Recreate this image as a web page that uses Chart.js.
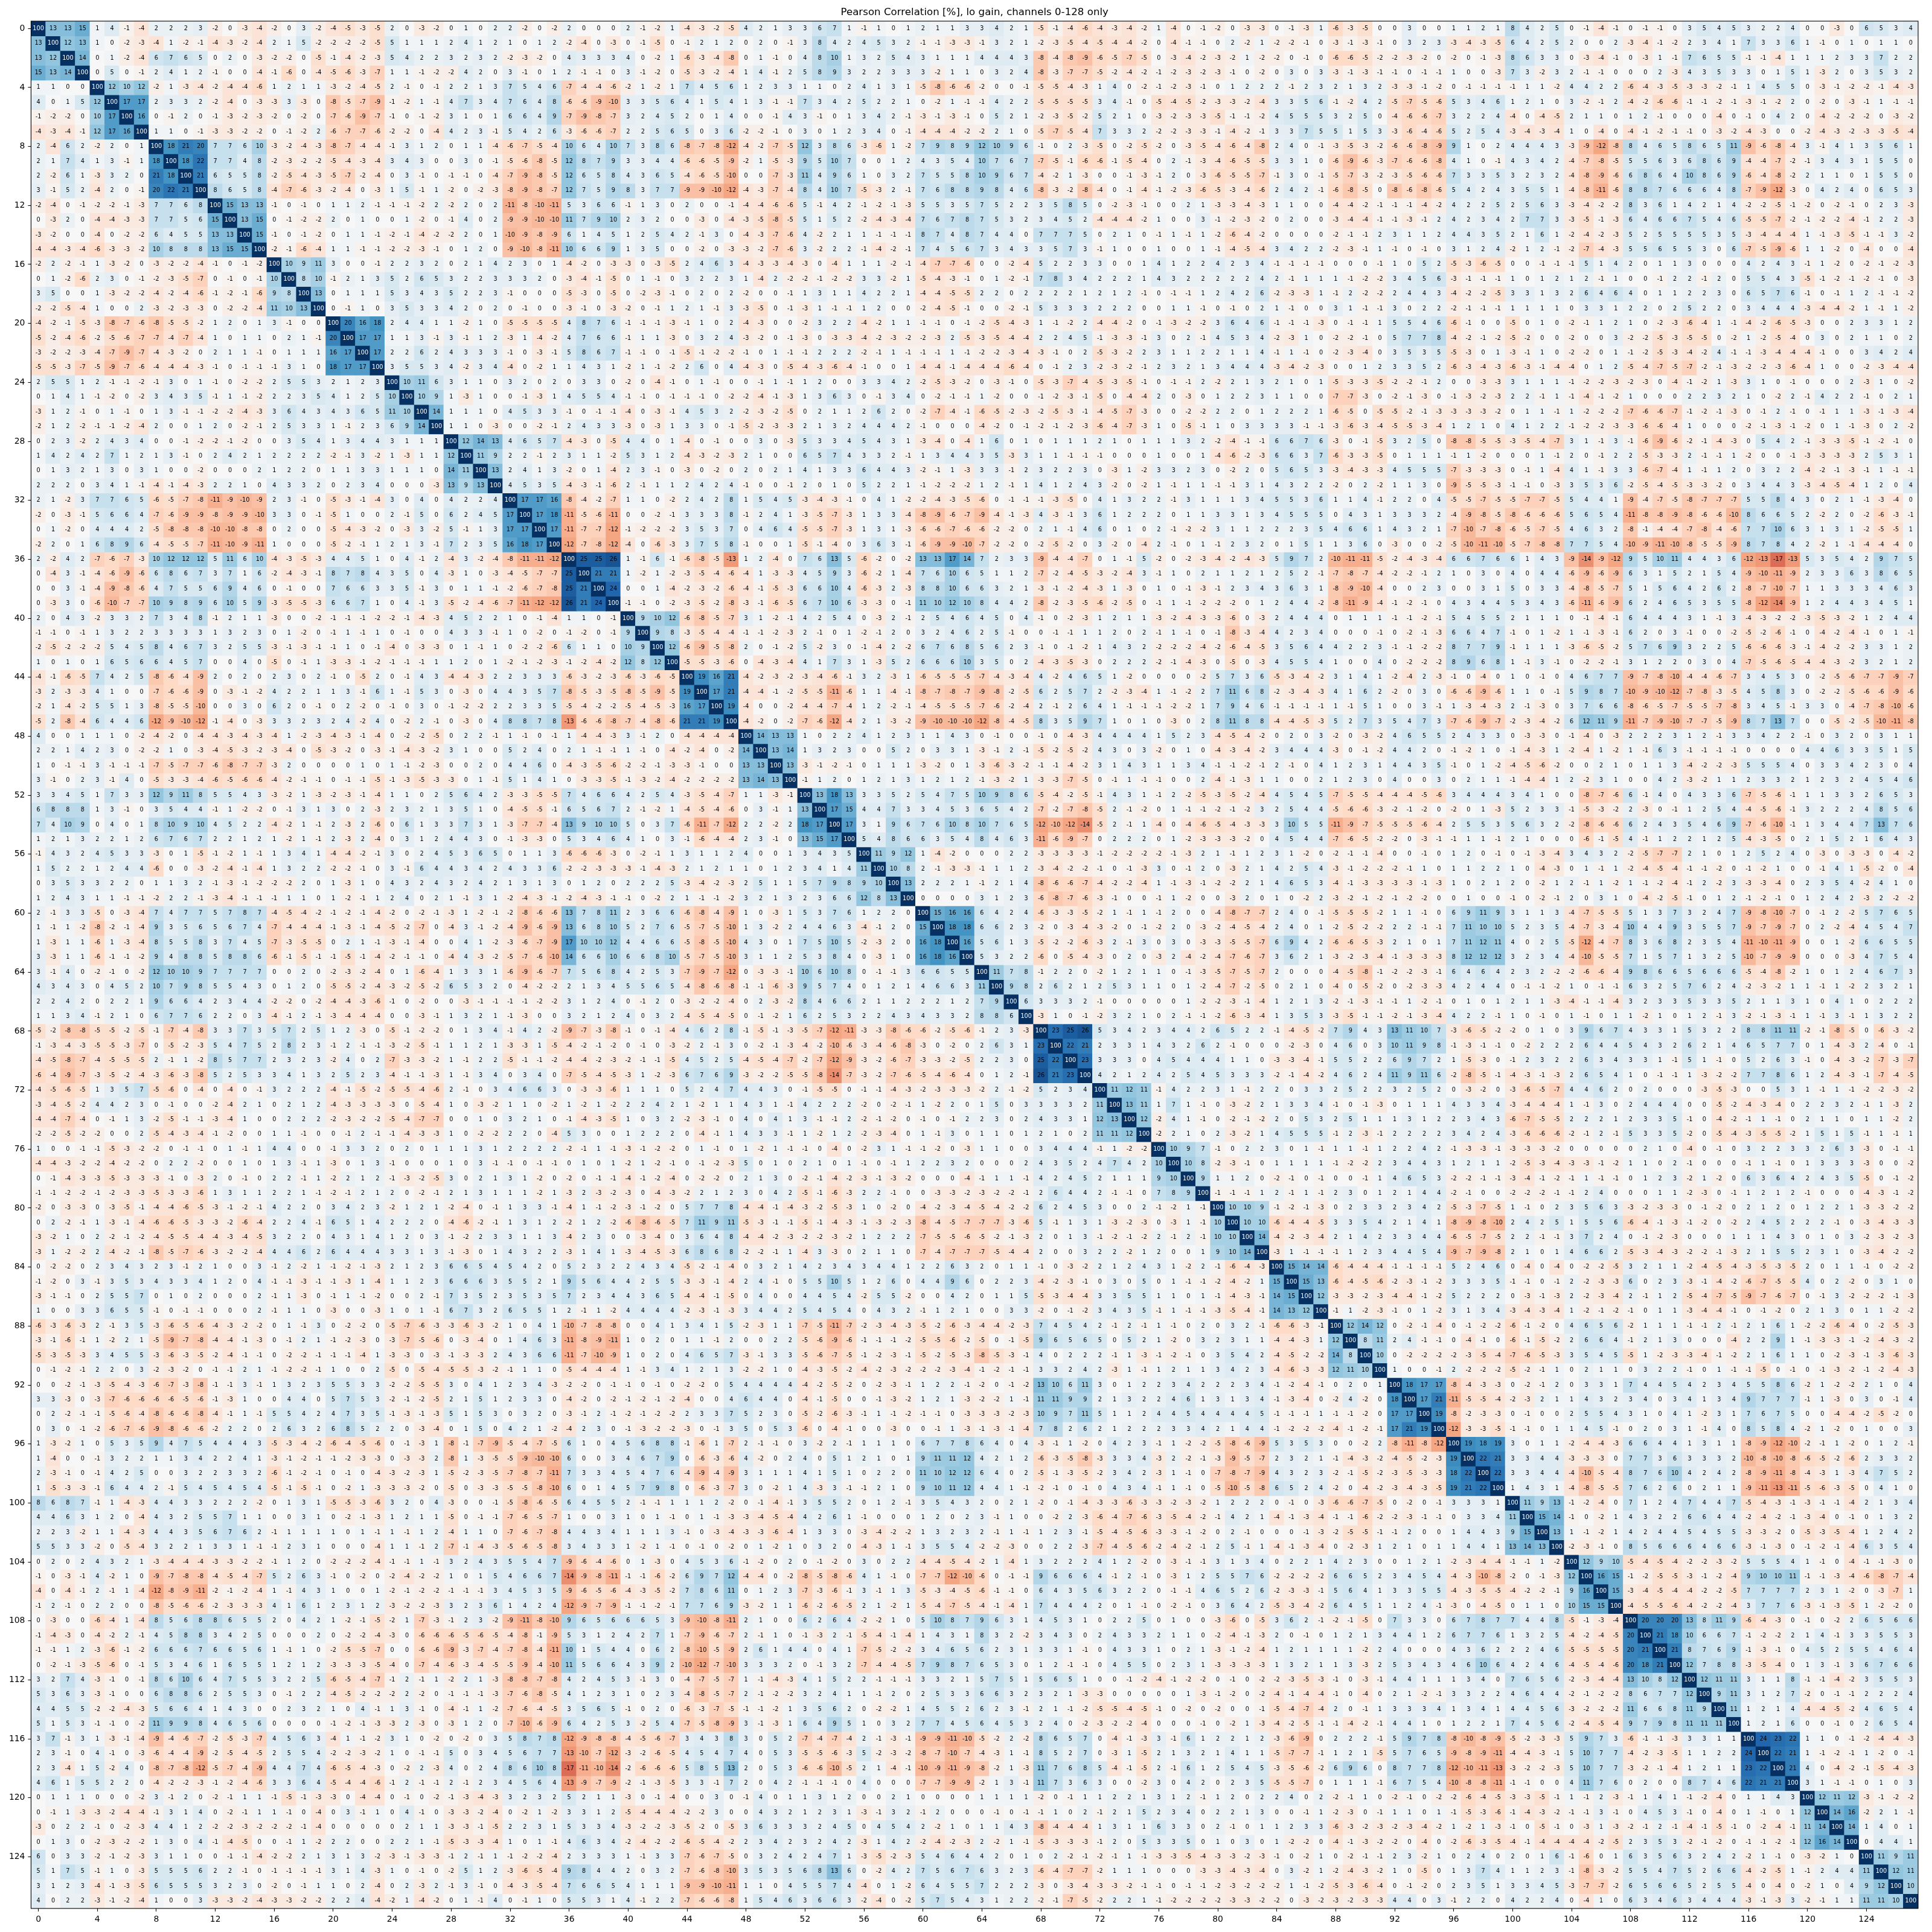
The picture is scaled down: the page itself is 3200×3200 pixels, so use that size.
<!DOCTYPE html>
<html>
<head>
<meta charset="utf-8">
<title>Pearson Correlation</title>
<script src="https://cdn.jsdelivr.net/npm/chart.js@4"></script>
<style>
  html, body { margin: 0; padding: 0; background: #fff; }
  canvas { display: block; }
</style>
</head>
<body>
<canvas id="corrChart" width="3200" height="3200"></canvas>
<script>
const chartTitle = 'Pearson Correlation [%], lo gain, channels 0-128 only';
const tickValues = [0, 4, 8, 12, 16, 20, 24, 28, 32, 36, 40, 44, 48, 52, 56, 60, 64, 68, 72, 76, 80, 84, 88, 92, 96, 100, 104, 108, 112, 116, 120, 124];

// The matrix is symmetric, so only the upper part is kept, in blocks of 32 channels.
// diag* rows start on the diagonal, upper* rows are complete.
const diag0 = [
[100,13,13,15,1,4,-1,-4,2,2,2,3,-2,0,-3,-4,-2,0,3,-2,-4,-5,-3,-5,2,0,-3,-2,0,1,0,2],
[100,12,13,1,0,-2,-3,-4,1,-2,-1,-4,-3,-2,-4,2,1,5,-2,-2,-2,-2,-5,5,1,1,1,2,4,1,2],
[100,14,0,1,-2,-4,6,7,6,5,0,2,0,-3,-2,-2,0,-5,-1,-4,-2,-3,5,4,2,2,3,2,3,2],
[100,0,5,0,-1,2,4,1,2,-1,0,0,-4,-1,-6,0,-4,-5,-6,-3,-7,1,1,-1,-2,-2,4,2,0],
[100,12,10,12,-2,1,-3,-4,-2,-4,-4,-6,1,2,1,1,-3,-2,-4,-5,2,-1,0,-1,2,2,1,3],
[100,17,17,2,3,3,2,-2,-4,0,-3,-3,3,-3,0,-8,-5,-7,-9,-1,-2,1,-1,4,7,3,4],
[100,16,0,-1,2,0,-1,-3,-2,-3,-2,0,-2,0,-7,-6,-9,-7,-1,0,-1,-2,3,1,0,1],
[100,1,1,0,-1,-3,-3,-2,-2,0,-1,-2,2,-6,-7,-7,-6,-2,-2,0,-4,4,2,3,-1],
[100,18,21,20,7,7,6,10,-3,-2,-4,-3,-8,-7,-4,-4,-1,3,1,2,0,1,1,-4],
[100,18,22,7,7,4,8,-2,-3,-2,-2,-5,-4,-3,-4,3,4,3,0,0,3,0,-1],
[100,21,6,5,5,8,-2,-5,-4,-3,-5,-7,-2,-4,0,3,-1,0,-1,-1,0,-4],
[100,8,6,5,8,-4,-7,-6,-3,-2,-4,0,-3,1,5,-1,1,-2,0,-2,-3],
[100,15,13,13,-1,0,-1,0,1,1,2,-1,-1,-1,-2,2,-2,2,0,2],
[100,13,15,0,-1,-2,-2,2,0,1,0,0,1,-2,0,-1,4,0,2],
[100,15,-1,0,-1,-2,0,1,1,-1,-2,-1,-4,-2,-2,2,0,1],
[100,-2,-1,-6,-4,1,1,-1,-1,-2,-2,-3,-1,0,1,2,0],
[100,10,9,11,3,0,0,-1,2,2,3,2,0,2,1,4],
[100,8,10,-1,2,1,3,5,2,6,5,3,2,2,3],
[100,13,0,1,1,1,5,3,4,3,5,2,2,3],
[100,0,-1,1,0,3,5,3,3,4,2,0,2],
[100,20,16,18,2,4,4,1,1,-2,1,0],
[100,17,17,1,1,3,-1,3,-1,1,2],
[100,17,2,2,6,2,4,3,3,3],
[100,3,5,5,3,4,-2,3,4],
[100,10,11,6,3,1,1,0],
[100,10,9,1,-3,1,0],
[100,14,1,1,1,0],
[100,1,1,0,-3],
[100,12,14,13],
[100,11,9],
[100,13],
[100]
];
const upper01 = [
[2,-2,0,-2,2,0,0,0,2,-1,-2,1,-4,-3,-2,-5,4,2,1,3,3,6,7,1,-1,1,0,1,2,1,1,3],
[1,0,1,2,-2,-4,0,-3,0,-1,-5,0,-1,2,1,2,0,2,0,-1,3,8,4,2,4,5,3,2,-1,-1,-3,-3],
[-2,-3,-2,0,4,3,3,3,4,0,-2,1,-6,-3,-4,-8,0,1,-1,0,4,8,10,1,3,2,5,4,3,1,1,1],
[3,-1,0,1,2,-1,-1,0,3,-1,-2,0,-5,-3,-2,-4,1,4,-1,2,5,8,9,3,2,2,3,3,3,-2,1,1],
[7,5,4,6,-7,-4,-4,-6,-2,1,-2,1,7,4,5,6,1,2,3,3,1,1,0,2,4,1,3,1,-5,-8,-6,-6],
[7,6,4,8,-6,-6,-9,-10,3,3,5,6,4,1,5,4,1,3,-1,-1,7,3,4,2,5,2,2,1,0,-2,1,-1],
[6,6,4,9,-7,-9,-8,-7,3,2,4,5,2,0,1,4,0,0,-1,4,3,-1,0,1,3,4,2,-1,-3,-1,-3,-1],
[5,4,2,6,-3,-6,-6,-7,2,2,5,6,5,0,3,6,-2,-2,-1,0,3,0,1,2,3,4,0,-1,-4,-4,-4,-2],
[-6,-7,-5,-4,10,6,4,10,7,3,8,6,-8,-7,-8,-12,-4,-2,-7,-5,12,3,8,6,-3,-6,1,-2,7,9,8,9],
[-5,-6,-8,-5,12,8,7,9,3,3,4,4,-6,-6,-5,-9,-2,1,-5,-3,9,5,10,7,0,0,1,2,4,3,5,4],
[-7,-9,-8,-5,12,6,5,8,4,3,6,5,-4,-6,-5,-10,0,0,-7,-3,11,4,9,6,1,0,3,2,7,5,5,8],
[-8,-9,-8,-7,12,7,5,9,8,3,7,7,-9,-9,-10,-12,-4,-3,-7,-4,8,4,10,7,-5,-3,2,-1,7,6,8,8],
[-11,-8,-10,-11,5,3,6,6,-1,1,3,0,2,0,0,-1,-4,-4,-6,-6,5,-1,4,2,-1,-2,-1,-3,5,5,3,5],
[-9,-9,-10,-10,11,7,9,10,2,3,2,0,0,-3,0,-4,-3,-5,-8,-5,5,1,5,2,-2,-4,-3,-4,7,6,7,8],
[-10,-9,-8,-9,6,1,4,5,1,2,5,4,2,-1,3,0,-4,-3,-7,-6,4,-2,2,1,1,-1,-1,-1,8,7,4,8],
[-9,-10,-8,-11,10,6,6,9,1,3,5,0,0,-2,0,-3,-3,-2,-7,-6,3,-2,2,2,-1,-4,-2,-1,7,4,5,6],
[2,3,0,1,-4,-2,0,-3,-3,0,-3,-5,2,4,6,3,-4,-3,-3,-4,-3,0,-4,1,1,1,-2,-1,-4,-7,-7,-6],
[3,3,2,0,-3,-4,-1,-5,0,1,-1,0,3,2,2,3,1,-4,2,-2,-2,-1,-2,-2,3,3,-2,1,-5,-4,-3,-1],
[-1,0,0,0,-5,-3,0,-5,0,-2,-3,-1,0,2,0,2,-2,0,0,-1,1,3,1,1,4,2,2,1,-4,-4,-5,-5],
[0,-1,0,0,-3,-1,0,-3,-2,0,-1,1,2,1,-1,3,-3,-5,0,-1,-3,1,-1,-1,1,2,0,0,-2,-4,-5,-1],
[-5,-5,-5,-5,4,8,7,6,-1,-1,-1,-3,-1,1,0,2,-4,-3,0,0,-2,3,2,2,-4,-2,1,1,-1,-1,0,-1],
[-3,1,-4,-2,4,7,6,6,-1,1,1,-3,0,3,2,4,-3,-2,0,-1,-3,0,-3,-3,-4,-2,-3,-2,-2,-3,2,-5],
[-1,0,-3,-1,5,8,6,7,-1,-1,0,-1,-5,-1,-2,-2,-1,0,1,-1,-1,2,2,2,-2,-1,1,-1,-1,-1,1,-1],
[-4,0,-2,1,1,4,3,1,-2,1,-1,-2,2,6,0,4,-4,-3,0,-5,-4,-3,-6,-4,-1,0,0,1,-4,-4,-1,-4],
[3,2,0,2,0,3,3,0,-2,0,-4,-1,0,1,-1,0,0,-1,1,-1,1,2,0,0,3,3,4,2,-2,-5,-3,-2],
[0,-1,-3,1,4,5,5,4,-1,-1,0,-1,-1,-1,0,-2,-2,-4,-1,-3,1,3,6,3,0,-1,3,4,0,-2,-1,-1],
[4,5,3,3,-1,0,-1,-1,-4,0,-3,-1,4,5,3,2,-2,-3,-2,-5,0,2,1,1,2,6,2,0,-2,-7,-4,-1],
[0,0,-2,-1,2,4,3,3,-3,0,-3,1,3,3,0,-1,-5,-2,-3,-3,2,1,3,2,4,4,4,2,-1,0,0,0],
[4,6,5,7,-4,-3,0,-5,4,4,0,1,-4,0,-1,0,0,3,0,-3,5,3,3,4,5,4,3,1,-3,-4,0,-4],
[2,2,-1,2,3,1,1,-2,5,3,1,2,-4,-3,-2,-3,2,1,0,0,6,5,7,4,3,3,2,-1,1,3,4,4],
[2,4,1,3,-2,0,1,-4,2,3,-1,0,-3,0,-2,0,2,0,2,1,4,1,3,3,6,4,4,3,-2,-1,1,-3],
[4,5,3,5,-4,-3,-1,-6,2,-1,1,1,2,4,2,4,-1,0,0,-1,2,0,1,0,5,2,2,1,-1,-2,-2,-2]
];
const upper02 = [
[3,4,2,1,-5,-1,-4,-6,-4,-3,-4,-2,1,-4,0,-1,-2,0,-3,-3,0,-1,-3,1,-6,-3,-5,0,0,3,0,0],
[-1,3,2,1,-2,-3,-5,-4,-5,-4,-4,-2,0,-4,-1,-1,0,2,-2,1,-2,-2,-1,0,-3,-1,-3,-1,0,3,2,3],
[4,4,4,3,-8,-4,-8,-9,-6,-5,-7,-5,0,-3,-4,-2,-3,-2,1,-2,-2,0,-1,0,-6,-6,-5,-2,-2,-3,-2,0],
[0,3,2,4,-8,-3,-7,-7,-5,-2,-4,-2,-1,-2,-3,-2,-3,-1,0,-2,0,3,0,3,-3,-1,-3,-1,-1,0,-1,-1],
[-2,0,0,-1,-5,-5,-4,-3,1,4,0,-2,-1,-2,-3,-1,0,1,2,2,2,-1,2,3,2,1,3,2,-3,-3,-1,-2],
[-1,4,2,2,-5,-5,-5,-5,3,4,-1,0,-5,-4,-5,-2,-3,-3,-2,-4,3,3,5,6,-1,-2,4,2,-5,-7,-5,-6],
[0,5,2,1,-2,-3,-5,-2,5,2,1,0,-3,-2,-3,-3,-5,-1,-1,-2,4,5,5,5,3,2,5,0,-4,-6,-6,-7],
[-2,2,1,0,-5,-7,-5,-4,7,3,3,2,-2,-2,-3,-3,-1,-4,-2,-1,3,3,7,5,5,1,5,3,-3,-6,-4,-6],
[12,10,9,6,-1,0,2,-3,-5,0,-2,-5,-2,0,-3,-5,-4,-6,-4,-8,2,4,0,-1,-3,-5,-3,-2,-6,-6,-8,-9],
[10,7,6,7,-7,-5,-1,-6,-6,-1,-5,-4,0,2,-1,-3,-4,-6,-5,-5,3,3,1,0,-6,-9,-6,-3,-7,-6,-6,-8],
[10,9,6,7,-4,-2,1,-3,0,0,-1,-3,-1,2,0,-3,-6,-5,-5,-7,-1,3,0,-1,-5,-7,-3,-2,-3,-5,-6,-6],
[9,8,4,6,-8,-3,-2,-8,-4,0,-1,-4,-1,-2,-3,-6,-5,-3,-4,-6,2,4,2,-1,-6,-8,-5,0,-8,-6,-8,-6],
[7,5,2,2,3,5,8,5,0,-2,-3,-1,0,0,2,1,-3,-3,-4,-3,1,1,0,0,-4,-4,-2,-1,-1,-1,-4,-2],
[7,5,3,2,3,4,5,2,-4,-4,-4,-2,1,0,0,3,-1,-2,-3,-2,0,2,0,0,-3,-4,-4,-1,-1,-3,-1,2],
[7,4,4,0,7,7,7,5,0,2,1,0,-1,1,-1,1,-2,-6,-4,-2,0,0,0,0,-2,-1,-1,2,3,1,1,2],
[7,3,4,3,3,5,7,3,-1,1,0,0,1,0,0,1,-1,-4,-5,-4,3,4,2,2,-2,-3,-1,1,-1,0,-1,0],
[0,0,-2,-4,5,2,2,3,3,0,0,1,4,1,2,2,4,2,3,4,-1,-1,-1,-1,0,0,0,-1,1,0,5,2],
[0,1,-2,-1,7,8,3,4,2,2,2,1,4,3,2,2,2,2,2,4,2,-1,1,1,1,-1,-2,-2,3,4,5,6],
[2,2,0,2,2,2,2,1,2,1,2,-1,0,-1,-1,1,2,4,2,6,-2,-3,-3,1,-1,2,-2,-2,2,4,4,3],
[0,0,-2,-1,5,3,3,3,2,2,2,0,0,1,1,-1,0,-1,0,2,1,-1,0,0,3,1,-1,-1,3,0,2,2],
[-2,-5,-4,-3,1,-1,-2,2,-4,-4,-2,0,-1,-3,-2,-2,3,6,4,6,-1,-1,-1,-3,0,-1,-1,1,5,5,4,6],
[-3,-5,-4,-4,2,2,4,5,-1,-3,-3,-1,3,0,2,-1,4,5,3,4,-2,-3,1,0,-2,-2,-1,0,5,7,7,8],
[-2,-2,-3,-4,-3,-1,0,2,-5,-3,-2,2,3,1,1,2,2,1,1,4,-1,1,-1,0,-2,-3,-4,0,3,5,3,5],
[-4,-4,-6,-4,0,-1,2,3,-2,-3,-2,-1,2,3,2,1,3,4,4,4,-3,-4,-2,-3,0,0,1,2,3,3,5,2],
[0,-3,-1,0,-5,-3,-7,-4,-5,-3,-5,-1,0,-1,-1,2,-2,2,1,3,2,1,0,1,-5,-3,-3,-5,-2,-2,-1,2],
[1,-2,0,0,-1,-2,-3,-1,-5,0,-4,-4,2,0,-3,0,1,2,2,3,1,1,0,0,-7,-7,-3,0,-2,-1,-3,0],
[-6,-5,-2,-3,-2,-5,-3,-1,-4,-5,-7,-3,0,0,-2,-2,2,2,0,1,2,2,2,1,-6,-5,0,-5,-5,-2,-1,-3],
[-4,-2,0,-1,-2,-1,-2,-3,-6,-4,-7,-3,1,0,-5,-1,1,0,3,3,3,3,-1,-1,-3,-6,-3,-4,-5,-5,-3,-4],
[1,6,0,1,0,1,1,1,2,1,0,1,1,1,3,2,-2,-4,-1,-1,6,6,7,6,-3,0,-1,-5,3,2,5,0],
[3,5,-3,3,1,1,-1,-1,-1,0,0,0,1,0,0,1,-4,-6,-2,-3,6,6,3,7,-6,-3,-3,-5,0,1,1,1],
[3,3,-1,2,3,2,2,3,0,-3,1,-2,3,3,2,3,0,-2,2,0,5,6,5,3,-3,-4,-3,-3,4,5,5,5],
[1,2,-1,1,4,1,2,4,3,-2,0,-2,1,-1,1,1,-1,-1,3,1,4,3,2,2,-2,0,2,-2,1,1,3,0]
];
const upper03 = [
[1,1,2,1,8,4,2,5,0,-1,-4,-1,0,-1,-1,0,3,5,4,5,3,2,2,4,0,0,-3,0,6,5,3,4],
[-3,-4,-3,-5,6,4,2,5,2,0,0,2,-3,-4,-1,-2,2,3,4,1,7,3,3,6,1,-1,0,1,0,1,1,0],
[-2,0,-1,-3,8,6,3,3,0,-3,-4,-1,0,-3,1,-1,7,6,5,5,-1,-1,-4,1,1,1,2,3,3,7,2,2],
[1,0,0,-3,7,3,-2,3,2,-1,-1,0,0,0,2,-3,4,3,5,3,3,0,1,5,1,-3,2,0,3,5,3,2],
[0,-1,-1,-1,-1,1,1,-2,4,4,2,2,-6,-4,-3,-5,-3,-3,-2,-1,1,4,5,5,0,-3,-1,-2,-2,-1,-4,-3],
[5,3,4,6,1,2,1,0,3,-2,-1,2,-4,-2,-6,-6,-1,-1,-2,-1,-3,-1,-2,2,0,-2,0,-3,-1,1,-1,-1],
[3,2,2,4,-4,0,-4,-5,2,1,1,0,1,2,-1,0,0,0,-4,0,-1,0,4,2,0,-4,-2,-2,-2,0,-3,-2],
[5,2,5,4,-3,-4,-3,-4,1,0,-4,0,-4,-1,-2,-1,-1,0,-3,-2,-4,-3,0,0,-2,-4,-3,-2,-3,-3,-5,-4],
[9,1,0,2,4,4,4,3,-3,-9,-12,-8,8,4,6,5,8,6,5,11,-9,-6,-8,-4,3,-1,4,1,3,5,6,1],
[4,1,0,-1,4,3,4,2,-4,-7,-8,-5,5,5,6,3,6,8,6,9,-4,-4,-7,-2,-1,3,4,3,1,5,5,0],
[7,3,3,5,3,2,3,2,-4,-8,-9,-6,6,8,6,4,10,8,6,9,-6,-4,-8,-2,2,1,1,0,1,5,5,0],
[5,4,2,4,3,5,5,1,-4,-8,-11,-6,8,8,7,6,6,6,4,8,-7,-9,-12,-3,0,4,2,4,0,6,5,3],
[4,2,2,5,2,5,6,3,-3,-4,-2,-2,8,3,6,1,4,2,1,4,-2,-2,-5,-1,-2,0,-2,-1,0,2,3,-3],
[4,2,3,4,2,7,7,3,-3,-5,-1,-3,6,4,6,6,7,5,4,6,-5,-5,-7,-2,-1,-2,-2,-4,-1,2,2,-3],
[4,4,3,5,2,1,6,1,-2,-4,-2,-3,5,2,5,5,5,5,3,5,-3,-4,-4,-4,1,-1,-3,-5,-1,-1,3,-2],
[3,1,2,4,-2,1,2,-1,-2,-7,-4,-3,5,5,6,5,5,3,0,6,-7,-5,-9,-6,1,1,-2,0,-4,0,0,-4],
[-5,-3,-6,-5,0,0,-1,-1,-1,5,1,4,2,0,1,1,3,0,0,0,4,2,4,3,-1,1,-2,0,-2,-1,-2,-3],
[-3,-1,-1,-1,1,0,1,2,1,2,-1,1,0,0,-1,2,2,-1,2,0,5,5,4,3,-5,-1,-2,-1,-2,-1,0,-3],
[-4,-2,-2,-5,3,3,1,3,2,6,4,6,4,0,1,1,2,2,3,0,6,5,7,6,-1,0,-1,1,2,-1,-1,-2],
[-2,-1,-1,-1,1,1,1,1,0,3,3,1,2,2,0,2,5,2,2,0,3,4,4,4,-3,-4,-4,-2,1,-1,1,-2],
[-6,-1,0,0,-5,0,1,0,-2,-1,1,2,1,0,-2,-3,-6,-4,1,-1,-4,-2,-6,-5,-3,0,0,2,3,3,1,2],
[-4,-2,-1,-2,-5,-2,0,0,-2,0,0,3,-2,-2,-5,-3,-5,-5,0,-2,1,-2,-5,-4,0,3,0,2,1,1,0,2],
[-5,-3,0,1,-3,-1,1,0,-2,-2,0,1,-1,-2,-5,-3,-4,-2,4,-1,-1,-3,-4,-4,-4,-1,0,0,3,4,2,4],
[-6,-3,-4,-3,-6,-3,-1,-4,-4,0,1,2,-5,-4,-7,-5,-7,-2,-1,-3,-2,-2,-3,-6,-4,1,0,0,-2,-3,-4,-4],
[0,0,-3,-3,3,1,1,1,-1,-2,-2,-3,-2,-3,0,-4,-1,-2,1,-3,3,1,0,-1,0,0,0,2,-3,1,0,-2],
[-1,-3,-2,-3,2,2,-1,1,-1,-4,-1,-2,1,0,0,0,2,2,3,2,1,0,-2,2,-1,4,2,2,-1,0,2,1],
[-3,-3,-3,-2,0,1,1,-1,1,-2,-2,-2,-7,-6,-6,-7,-1,-2,-1,-3,0,-1,2,-1,0,-1,1,1,-3,-1,-3,-4],
[1,2,1,0,4,1,2,2,-1,-2,-2,-3,-3,-6,-6,-4,1,0,0,0,-2,-1,-3,-1,-2,0,1,-1,-3,0,2,-2],
[-8,-8,-5,-5,-3,-5,-4,-7,3,1,-1,3,-1,-6,-9,-6,-2,-1,-4,-3,0,5,4,2,-1,-3,-3,-5,-1,-2,-1,0],
[-1,1,-2,0,0,0,1,-1,2,0,-1,2,2,-5,-3,-3,2,-1,-1,1,-2,0,0,-1,-3,-3,-3,-3,2,5,3,1],
[-7,-3,-3,-3,0,-1,1,-4,4,1,-1,3,3,-6,-7,-4,1,-1,1,2,0,3,2,2,-4,-2,-1,-3,-1,1,-1,-1],
[-9,-5,-5,-3,-1,-1,0,-3,3,5,3,6,-2,-5,-4,-5,-3,-3,-2,0,3,4,4,3,-3,-4,-5,-4,1,2,0,4]
];
const diag1 = [
[100,17,17,16,-8,-4,-2,-7,1,1,0,-2,2,4,2,8,1,5,4,5,-3,-4,-3,-1,0,4,1,-2,-2,-4,-3,-5],
[100,17,18,-11,-5,-6,-11,0,0,-2,-1,3,3,3,8,-1,2,4,1,-3,-5,-7,-3,1,3,3,-4,-8,-9,-6,-7],
[100,17,-11,-7,-7,-12,-1,-2,-2,-2,3,5,3,7,0,4,6,4,-5,-5,-7,-3,1,3,1,-3,-6,-6,-7,-6],
[100,-12,-7,-8,-12,-4,0,-6,-3,3,7,5,8,-1,0,0,1,-5,-1,-4,0,3,6,3,-1,-6,-9,-9,-10],
[100,25,25,26,1,-1,6,-1,-6,-8,-5,-13,1,2,-4,0,7,6,13,5,-6,-2,0,-2,13,13,17,14],
[100,21,21,1,-2,1,-2,-3,-5,-4,-6,-4,1,-3,-3,4,5,9,3,-6,-2,1,-4,7,6,10,6],
[100,24,0,0,1,-4,-2,-3,-2,-6,-4,-1,-5,-3,6,6,10,4,-6,-3,2,-3,8,8,10,6],
[100,-1,-1,0,-2,-3,-5,-2,-8,-3,-1,-6,-5,6,7,10,6,-3,-3,0,-1,11,10,12,10],
[100,9,10,12,-6,-8,-5,-7,3,1,-2,-1,4,2,5,4,0,-3,2,-1,2,5,4,6],
[100,9,8,-3,-5,-4,-4,-1,-1,-2,-3,2,-1,0,1,-2,-1,2,0,3,2,4,6],
[100,12,-6,-9,-5,-8,2,0,-1,-2,5,-2,3,0,-1,-4,2,-2,6,7,6,8],
[100,-5,-5,-3,-6,0,-4,-3,-4,4,1,7,3,1,-3,5,2,6,6,6,10],
[100,19,16,21,-4,-2,-3,-2,-3,-4,-6,-1,3,2,-3,1,-6,-5,-5,-5],
[100,17,21,-4,-4,-1,-2,-5,-5,-11,-6,1,1,-4,-1,-8,-7,-8,-7],
[100,19,-4,0,0,-2,-4,-4,-7,-4,1,2,-2,-1,-4,-5,-5,-5],
[100,-4,-2,0,-2,-7,-6,-12,-4,2,1,-3,-2,-9,-10,-10,-10],
[100,14,13,13,1,0,2,2,4,1,2,3,1,1,4,3],
[100,13,14,1,3,2,3,0,0,5,2,0,3,3,1],
[100,13,-3,-1,-2,-1,0,1,1,1,-3,-2,0,1],
[100,-1,1,2,0,1,2,1,3,1,2,1,2],
[100,13,18,13,3,3,5,2,5,4,7,5],
[100,17,15,4,4,7,3,3,4,5,3],
[100,17,3,1,9,6,7,6,10,8],
[100,5,4,8,6,6,3,5,4],
[100,11,9,12,1,-4,-2,0],
[100,10,8,2,-1,-3,-3],
[100,13,2,2,2,1],
[100,0,0,0,0],
[100,15,16,16],
[100,18,18],
[100,16],
[100]
];
const upper12 = [
[-6,0,-1,-1,-1,-3,-5,0,4,1,3,2,2,-1,3,1,1,1,3,4,5,5,3,6,1,1,4,-1,2,2,0,4],
[-9,-4,-1,-3,4,-3,-1,3,6,1,2,2,2,0,1,1,3,3,1,3,4,5,5,5,0,4,3,1,3,3,3,2],
[-6,-2,-2,0,2,1,-1,4,6,0,1,0,2,-1,-2,-2,3,1,1,2,2,2,3,5,4,6,6,1,4,3,2,1],
[-7,-2,-2,0,-2,-5,-2,0,3,-2,0,-4,2,-1,0,1,-1,2,3,2,0,1,5,1,1,3,6,0,-3,0,0,-2],
[7,2,3,3,-9,-4,-4,-7,0,1,-1,5,-2,0,-2,-3,-4,-2,-4,-3,5,9,7,2,-10,-11,-11,-5,-2,-4,-3,-4],
[5,1,1,2,-7,-2,-4,-5,-3,-2,-4,3,-1,1,0,2,1,1,2,1,2,5,2,-1,-7,-8,-7,-4,-2,-2,-1,2],
[6,3,2,1,-3,-1,-2,-4,-3,1,-3,0,1,0,-1,-3,-1,2,3,4,3,6,3,1,-8,-9,-10,-4,0,0,2,3],
[8,4,4,2,-8,-2,-3,-5,-6,-2,-5,0,-1,1,-1,-2,-2,-2,0,1,2,4,4,-2,-8,-11,-9,-4,-1,-2,-1,0],
[4,5,0,4,-1,0,-2,-3,1,2,1,1,-3,-2,-4,-3,-3,-6,0,-3,2,4,4,4,0,1,1,1,-1,-1,-2,-1],
[2,5,-1,0,0,-1,-1,1,1,2,0,2,-1,1,-1,0,-1,-8,-3,-4,4,2,3,4,0,0,0,-1,0,-2,-1,-3],
[5,6,2,3,-1,0,-1,-2,1,4,3,2,-2,-2,-2,-4,-2,-6,-4,-5,3,5,6,4,4,2,2,3,-1,-1,-2,-2],
[3,5,0,2,-4,-3,-5,-3,0,2,2,2,-2,-1,-4,-3,0,-5,0,-3,4,5,5,4,1,0,0,4,0,-2,-2,-2],
[-7,-4,-3,-4,4,-2,4,6,5,1,-2,0,0,0,0,-2,5,7,3,6,-5,-3,-4,-2,3,1,4,1,-2,-4,2,-3],
[-9,-8,-2,-5,6,2,5,7,2,-2,-3,-4,1,-1,-2,2,7,11,6,8,-2,-3,-4,-3,4,1,6,2,-2,0,3,0],
[-7,-6,-2,-4,2,-1,2,6,4,1,-1,-1,-1,-2,-2,1,7,9,4,6,-1,-1,-1,-1,1,-1,5,1,0,0,3,-1],
[-12,-8,-4,-5,8,3,5,9,7,1,0,1,0,-3,0,2,8,11,8,8,-4,-4,-5,-3,5,2,7,3,5,4,7,3],
[0,-1,0,0,-1,0,-4,-3,4,4,4,4,1,5,2,3,-4,-5,-4,-2,0,2,0,3,-2,0,-3,-2,4,6,5,5],
[-3,-1,2,-1,-5,-2,-5,-2,4,3,0,3,-2,0,1,0,-4,-3,-4,-2,3,4,4,4,-3,0,-1,-2,4,4,2,0],
[-3,-6,-3,-2,-1,-1,-4,-2,3,1,4,3,1,1,3,4,-1,-1,-2,-1,2,-1,0,4,1,2,3,1,4,4,3,5],
[-1,-3,-2,1,-3,-3,-7,-5,0,-1,1,-1,-1,0,0,2,-4,-1,-3,1,1,0,0,2,1,2,3,0,4,0,0,3],
[10,9,8,6,-5,-4,-2,-5,-1,4,3,1,-1,2,-2,-5,-3,-5,-2,-4,4,5,4,5,-7,-5,-5,-4,-4,-4,-5,-6],
[6,5,4,2,-7,-2,-7,-8,-5,2,-1,-2,0,1,-1,-1,-2,-1,-2,3,2,5,4,4,-5,-6,-6,-3,-2,-1,-2,0],
[10,7,6,5,-12,-10,-12,-14,-5,2,-1,1,-4,0,-4,-6,-5,-4,-3,-3,3,10,5,5,-11,-9,-7,-5,-5,-5,-6,-4],
[8,4,6,3,-11,-6,-9,-7,0,2,2,2,0,1,-2,-3,-3,-3,-2,0,4,5,4,4,-7,-6,-5,-2,-2,0,-3,-1],
[0,0,2,2,-3,-3,-3,-3,-1,-2,-2,-2,-2,-1,-3,2,1,-1,1,2,3,1,-2,0,-2,-1,-1,-4,0,0,-1,0],
[-1,1,1,2,-3,-4,-2,-2,-1,0,-1,-3,3,0,-1,2,0,-3,2,1,4,2,5,4,-3,-1,-2,-2,-2,-1,1,0],
[-1,2,1,4,-8,-6,-6,-7,-4,-2,-2,-4,1,-1,-3,-1,-2,-2,2,1,4,6,5,3,-4,-1,-3,-3,-3,-3,-1,-3],
[3,1,2,3,-6,-8,-7,-6,-3,-1,0,0,-1,1,-2,0,0,-3,2,0,1,0,-2,2,-3,-2,-1,-2,-1,-2,-2,0],
[6,4,2,4,-6,-3,-3,-5,-2,1,-1,1,-1,2,0,0,-4,-8,-7,-7,2,4,0,-1,-5,-5,-5,-2,1,1,-1,0],
[6,6,2,3,-2,0,-3,-4,-3,-2,0,-1,-2,2,0,-3,-2,-4,-5,-4,2,4,0,1,-2,-5,-2,-2,2,2,-1,-1],
[5,6,1,3,-5,-2,-2,-6,-3,2,-1,3,0,3,0,-3,-3,-5,-5,-7,6,9,4,2,-6,-6,-5,-3,2,1,0,1],
[5,3,2,2,-6,0,-5,-4,-3,0,2,0,-3,2,-4,-2,-4,-7,-6,-7,3,6,2,1,-3,-2,-3,-4,-1,-3,-3,-3]
];
const upper13 = [
[-5,-5,-7,-5,-5,-7,-7,-5,5,4,4,1,-9,-4,-7,-5,-8,-7,-7,-7,5,5,8,4,3,0,2,1,-1,-3,-4,0],
[-4,-9,-8,-5,-8,-6,-6,-6,5,6,5,4,-11,-8,-8,-9,-8,-6,-6,-10,8,6,6,5,2,-2,2,0,-2,-6,-3,-1],
[-7,-10,-7,-8,-6,-5,-7,-5,4,6,3,2,-8,-1,-4,-4,-7,-8,-4,-6,7,7,10,6,3,1,3,1,-2,-5,-5,1],
[-5,-10,-11,-10,-5,-7,-8,-8,7,7,5,4,-10,-9,-11,-10,-8,-5,-5,-9,8,7,8,4,2,-2,1,-1,-4,-4,-4,0],
[6,6,7,6,6,1,4,3,-9,-14,-9,-12,9,5,10,11,4,4,3,6,-12,-13,-17,-13,5,3,5,4,2,9,7,5],
[1,0,3,0,4,0,4,4,-6,-9,-6,-9,6,3,1,5,2,1,5,4,-9,-10,-11,-9,2,3,3,6,3,8,6,5],
[0,0,3,1,5,0,3,3,-4,-8,-5,-7,5,1,5,6,4,2,6,2,-8,-7,-10,-7,1,1,3,3,3,4,6,3],
[4,3,4,4,5,3,4,3,-6,-11,-6,-9,6,2,4,6,5,3,5,5,-8,-12,-14,-9,1,2,4,4,3,4,5,1],
[5,4,5,5,2,1,1,1,0,-1,-4,-1,6,4,4,4,3,1,-1,3,-4,-3,-2,-2,-3,-5,-3,-2,1,2,4,4],
[6,6,4,7,-1,0,1,-2,1,-1,-3,-1,6,2,0,3,-1,0,0,-2,-5,-2,-6,-1,0,-4,-2,-4,-1,0,1,-1],
[8,7,7,9,-1,1,1,1,-3,-6,-5,-2,5,7,6,9,3,2,2,5,-6,-6,-6,-3,-1,-4,-2,-2,3,3,1,2],
[8,9,6,8,1,-1,3,-1,0,-2,-2,-1,3,1,2,2,0,3,0,4,-7,-5,-6,-5,-4,-4,-3,-2,3,2,1,2],
[-1,0,-4,0,1,0,-1,0,4,6,7,7,-9,-7,-8,-10,-4,-4,-6,-7,3,4,5,3,0,-2,-5,-6,-7,-7,-9,-7],
[-6,-6,-9,-6,1,1,0,-1,5,9,8,7,-10,-9,-10,-12,-7,-8,-3,-5,4,5,8,3,0,-2,-2,-5,-6,-6,-9,-6],
[1,-3,-4,-3,2,-1,-3,0,3,7,6,6,-8,-6,-5,-7,-5,-5,-7,-8,3,4,5,-1,3,3,0,-4,-7,-8,-10,-6],
[-7,-6,-9,-7,-2,-3,-4,-2,6,12,11,9,-11,-7,-9,-10,-7,-7,-5,-9,8,7,13,7,0,0,-5,-2,-5,-10,-11,-8],
[2,4,3,3,0,-3,-3,0,-1,-4,0,-3,2,2,2,3,1,2,-1,3,3,4,2,2,-1,0,3,2,0,3,1,1],
[-1,-2,1,0,-1,-4,-3,1,-2,-4,1,-2,1,-1,6,3,-1,-1,-1,-1,0,0,0,0,4,4,6,3,3,5,1,5],
[-1,0,1,-2,-4,-5,-6,-2,0,0,2,1,0,1,1,3,-4,-2,-2,-3,5,5,5,4,0,3,3,4,2,3,0,4],
[0,2,1,1,-1,-4,-4,1,2,-2,3,1,0,0,4,2,-3,-2,1,1,2,3,3,2,1,2,3,2,4,5,4,6],
[3,4,4,4,3,4,1,0,0,-8,-7,-6,6,-1,4,0,4,3,3,6,-7,-5,-6,-1,1,1,3,3,2,6,5,3],
[-2,0,1,-3,5,2,3,3,-1,-5,-3,-2,2,-3,0,-1,1,2,5,4,-4,-5,-6,-1,3,2,2,2,4,8,5,6],
[2,5,5,3,5,6,3,2,-2,-8,-6,-6,6,2,4,3,5,4,6,9,-7,-6,-10,-1,1,3,4,4,7,13,7,6],
[-1,1,1,-1,2,1,0,0,0,-6,-1,-5,4,-1,1,2,2,1,2,5,-4,-3,-5,0,2,1,5,2,1,6,4,3],
[1,2,0,-1,0,-1,-3,-4,3,4,3,2,-2,-5,-7,-7,2,1,0,1,2,5,2,4,0,-3,0,-3,-3,0,-4,-2],
[1,1,2,2,1,0,-4,-3,0,1,-1,1,-2,-4,-5,-4,-1,-1,-2,0,-1,-2,1,0,0,-1,4,1,-5,-2,0,-4],
[1,0,2,1,2,0,-2,1,2,-1,1,-2,1,-1,-2,-4,-1,2,-2,3,-3,-3,-4,0,2,3,5,4,-2,4,1,0],
[0,1,0,0,-1,0,-2,-1,2,0,3,1,0,-4,-2,-5,-1,0,1,2,-1,-2,-1,0,1,2,4,2,-3,2,-2,-2],
[6,9,11,9,3,1,1,3,-4,-7,-5,-5,5,1,3,7,3,2,4,7,-9,-8,-10,-7,0,-1,2,-2,5,7,6,5],
[7,11,10,10,5,2,3,5,-4,-7,-3,-4,10,4,4,9,3,5,5,7,-9,-7,-9,-7,0,2,-2,-4,4,5,4,7],
[7,11,12,11,4,0,2,5,-5,-12,-4,-7,8,3,6,8,2,3,5,4,-11,-10,-11,-9,0,0,1,-2,6,6,5,5],
[8,12,12,12,3,2,3,4,-4,-10,-5,-5,7,1,5,7,1,3,2,5,-10,-7,-9,-9,0,0,0,-3,4,7,5,4]
];
const diag2 = [
[100,11,7,8,-1,2,2,0,-2,1,2,1,1,0,-1,-3,-5,-7,-5,-7,2,0,0,0,-4,-5,-8,-1,-2,-2,-3,-1],
[100,9,8,2,6,2,1,2,5,3,1,1,0,1,-2,-4,-7,-2,-5,0,2,1,0,-4,0,-5,-2,0,-2,-3,-3],
[100,6,3,3,3,2,-1,0,0,0,0,0,1,-2,-2,-3,-1,-4,1,2,1,3,-2,-1,-3,-1,-1,1,-2,-1],
[100,-3,1,0,-1,-2,3,2,1,0,2,-1,-1,-2,-6,-3,-4,1,3,5,3,-3,-5,-1,-1,-2,-1,-3,-4],
[100,23,25,26,5,3,4,2,3,4,4,2,6,5,2,2,-1,-4,-5,-2,7,9,4,3,13,11,10,7],
[100,22,21,2,3,3,1,4,3,2,6,2,-1,0,0,0,-2,-3,0,4,6,0,3,10,11,9,8],
[100,23,3,3,3,0,4,5,4,4,4,1,1,0,-3,-3,-4,-1,5,5,2,2,6,9,7,2],
[100,4,2,1,2,4,2,5,4,5,3,3,3,-2,-1,-4,-2,4,6,2,4,11,9,11,6],
[100,11,12,11,-1,4,2,2,3,1,-1,2,2,0,3,3,2,5,2,2,3,2,5,2],
[100,13,11,1,7,1,-1,0,-3,-2,2,1,3,3,4,-1,0,-1,-3,0,1,1,1],
[100,12,-2,4,1,-1,0,-2,-1,-2,2,0,5,3,2,5,1,1,1,3,1,2],
[100,-2,2,1,0,2,-3,-2,1,4,5,5,5,-1,2,-3,-1,2,2,2,2],
[100,10,9,7,-1,0,2,2,3,0,1,-1,1,1,-1,1,2,2,4,2],
[100,10,8,-2,-3,-1,0,1,1,1,1,-1,-2,-2,2,3,4,4,3],
[100,9,1,1,2,0,-2,-1,0,-1,0,0,-1,1,4,6,5,3],
[100,-1,-1,-1,1,2,-1,1,-1,2,3,0,1,2,1,4,4],
[100,10,10,9,-1,-2,-1,-3,0,2,3,3,2,3,4,2],
[100,10,10,-6,-4,-4,-5,3,3,5,4,2,1,4,1],
[100,14,-4,-2,-3,-4,2,1,4,2,3,3,4,4],
[100,-3,1,-1,-1,-1,1,2,3,4,4,5,4],
[100,15,14,14,-6,-4,-4,-4,-1,-1,-1,-1],
[100,15,13,-6,-4,-5,-6,-2,-3,-1,-2],
[100,12,-3,-3,-2,-3,-4,-4,-1,-2],
[100,-1,1,-2,-3,-1,0,1,-2],
[100,12,14,12,0,-2,-1,-4],
[100,8,11,2,4,-1,-1],
[100,10,0,-2,-2,-2],
[100,1,0,0,-1],
[100,18,17,17],
[100,17,21],
[100,19],
[100]
];
const upper23 = [
[6,4,6,4,2,3,2,-2,-2,-6,-6,-4,9,8,6,6,5,6,6,6,-5,-4,-8,-2,1,0,1,2,4,6,7,3],
[4,2,4,4,0,-1,-1,-2,1,0,-1,-1,6,3,2,5,7,6,2,4,-2,-3,-2,1,1,-1,1,-2,2,3,2,1],
[0,1,0,1,2,1,1,-3,-4,-1,-1,-4,3,2,3,3,5,3,3,5,2,1,1,3,1,0,4,1,0,2,2,2],
[4,2,2,-1,1,0,-1,0,1,-1,0,1,1,-2,1,0,1,2,-1,3,-2,-1,-3,-1,1,-1,3,-1,1,3,2,2],
[-3,-6,-5,-2,-2,0,1,0,3,9,6,7,4,3,3,1,5,3,2,2,8,8,11,11,-2,-1,-8,-5,0,-6,-3,-2],
[-1,-3,-1,-1,0,-2,2,2,2,6,4,4,5,4,3,2,6,2,1,4,6,5,7,7,0,1,-4,-3,2,-4,0,-1],
[1,-5,-3,0,-1,2,3,2,2,6,3,4,3,3,1,-1,5,1,-1,0,5,2,6,3,-1,0,-4,-3,-2,-7,-3,-7],
[-2,-8,-5,-1,-4,-3,-1,-3,2,6,5,4,1,0,-1,-1,1,-3,-2,-2,7,7,8,6,1,2,-4,-3,-1,-7,-4,-5],
[0,-3,-2,0,-3,-6,-5,-7,4,4,6,2,0,2,0,0,0,-3,-5,-3,0,0,5,3,1,-1,1,-1,-2,-2,-3,-2],
[4,3,3,4,-3,-4,-4,-4,1,-1,3,0,2,4,4,4,0,0,-5,-2,-4,-3,-4,0,2,2,3,2,-1,1,-3,2],
[2,3,4,3,-6,-7,-5,-5,2,2,2,1,2,3,3,5,-1,0,-4,-2,-1,1,-1,0,2,1,1,0,1,1,-2,2],
[3,4,2,4,-3,-6,-6,-6,-2,-1,2,-1,5,3,3,5,-2,0,-5,-4,-3,-5,-5,-2,1,5,1,5,-1,1,-1,1],
[-1,-3,-3,-1,-3,-3,-3,-2,0,0,0,0,0,2,1,0,-4,0,-1,0,3,2,2,3,3,2,6,3,-3,0,-1,-1],
[1,2,1,1,-2,-5,-3,-4,-3,-3,-1,-2,1,1,0,2,-1,0,0,0,-1,1,-1,0,1,3,3,3,-3,0,0,-2],
[-2,-2,-1,-1,-3,-4,-1,-2,-1,1,-1,-1,0,1,2,3,-2,1,-2,0,6,3,6,4,2,4,3,5,-5,0,-1,-2],
[-2,-1,0,0,-2,-2,-2,-1,-1,2,4,0,0,0,1,1,-2,-3,0,-1,1,2,1,2,-1,0,0,0,-4,-3,-1,-2],
[-5,-3,-7,-5,1,-1,0,2,3,5,6,3,-3,-2,-3,-3,0,-1,-2,0,2,1,2,0,1,2,2,1,-3,-3,-2,-2],
[-8,-9,-8,-10,2,4,2,5,1,5,5,6,-6,-4,-1,-3,-1,-2,0,-2,2,4,5,2,2,2,-1,0,-3,-4,-3,-3],
[-6,-5,-7,-5,2,2,-1,-1,3,7,2,4,0,-1,-2,-3,0,0,0,1,1,1,4,3,0,1,0,3,-2,-3,-2,-3],
[-9,-7,-9,-8,2,1,0,1,4,6,6,2,-5,-3,-4,-3,-2,-2,-1,-3,2,1,5,5,2,3,1,0,-3,-4,-2,-2],
[5,2,4,6,0,-4,0,-4,0,-2,-2,-5,3,2,1,1,-2,-4,-5,-4,-3,-5,-3,-5,2,0,1,1,-1,0,-2,-2],
[3,3,3,5,-1,-1,0,-1,2,-2,-3,-3,6,0,2,3,-3,-1,-4,-2,-6,-7,-5,-5,4,0,2,-2,0,3,1,0],
[5,2,2,2,0,-3,-1,-3,2,-2,-3,-4,2,-1,1,2,-5,-4,-7,-5,-9,-7,-6,-7,0,-1,3,-2,-2,-2,-1,-3],
[3,1,3,4,-3,-4,-3,-4,1,-2,-1,-2,-1,0,1,1,-3,-4,-4,-1,0,-1,-2,0,2,1,3,0,1,1,-2,-2],
[0,-1,-2,-2,-6,-1,-2,0,4,6,5,6,-2,1,1,1,-1,-1,2,-1,2,1,6,1,-2,-2,-6,-4,0,-2,-5,-3],
[0,-4,-1,0,-6,-1,-5,-2,2,6,6,4,-1,2,1,3,0,0,0,-4,2,2,9,1,-1,-3,-3,-1,-2,-4,-3,-2],
[-2,-3,-5,-4,-7,-6,-5,-3,3,5,4,5,-5,1,-2,-3,-3,-4,-1,-2,2,1,6,1,1,0,-2,-3,-1,-3,-6,-3],
[2,-2,-2,-2,-5,-2,-1,1,0,2,1,1,0,3,2,2,-1,0,1,-1,-1,-5,0,-1,0,-1,-3,-2,-1,-2,-4,-3],
[-8,-4,-3,-3,0,-2,-1,2,0,3,3,1,7,4,4,5,4,2,3,4,5,5,8,6,-2,1,-2,-2,2,1,0,4],
[-11,-5,-5,-4,-2,-3,2,1,1,4,3,2,3,4,0,3,4,1,3,4,9,7,7,7,-1,1,-3,0,3,0,-1,4],
[-8,-2,-3,-3,0,-1,0,0,2,5,5,4,3,1,0,4,1,-2,3,1,7,6,7,5,0,0,-4,-4,-2,-5,-2,0],
[-12,-3,-3,-5,-1,-1,0,1,1,4,5,-1,0,2,0,3,1,-1,4,0,8,5,8,4,-2,1,-2,0,1,0,0,3]
];
const diag3 = [
[100,19,18,19,3,0,1,1,-2,-4,-4,-3,6,6,4,4,1,3,1,1,-8,-9,-12,-10,-2,-1,1,-2,0,1,2,-1],
[100,22,21,3,3,4,4,-3,-3,-3,0,7,7,3,6,3,3,3,2,-10,-8,-10,-8,-6,-5,-2,-6,2,3,3,2],
[100,22,3,3,4,4,-4,-10,-5,-4,8,7,6,10,4,2,4,2,-8,-9,-11,-8,-4,-3,1,-3,4,7,5,2],
[100,1,4,3,1,-4,-8,-5,-5,7,6,2,6,0,2,1,1,-9,-11,-13,-11,-5,-6,-3,-5,0,4,1,0],
[100,11,9,13,-1,-2,-4,0,7,1,2,4,7,4,4,7,-5,-4,-3,-1,-3,-1,-1,-4,2,1,3,4],
[100,15,14,-1,0,-2,1,4,3,2,2,6,6,4,4,-2,-4,-2,-1,-3,-4,0,-1,0,1,3,2],
[100,13,1,-1,-2,1,4,2,4,4,5,4,5,5,-3,-3,-2,0,-5,-3,-5,-4,1,2,4,2],
[100,-2,-3,-1,0,8,5,6,6,6,4,6,6,-3,-1,-3,0,-1,-2,-1,-4,6,3,5,4],
[100,12,9,10,-5,-4,-5,-4,-2,-2,-3,-2,5,5,5,4,1,-1,0,-4,-1,-1,-3,0],
[100,16,15,-1,-2,-5,-5,-3,-1,-2,-4,9,10,10,11,-1,-1,-3,-4,-6,-8,-7,-4],
[100,15,-3,-4,-5,-4,-4,-2,-2,-5,7,7,7,7,2,3,1,-2,0,-3,-7,1],
[100,-4,-5,-5,-6,-4,-2,-2,-4,3,7,7,6,-3,-1,-3,-5,1,-2,-2,0],
[100,20,20,20,13,8,11,9,-6,-4,-3,0,-1,0,-2,2,6,5,6,6],
[100,21,18,10,6,6,7,-1,-2,-2,2,1,4,-1,3,3,5,5,3],
[100,21,8,7,6,9,-1,-3,-1,0,4,5,2,5,5,4,6,4],
[100,12,7,8,8,-3,-5,-4,0,1,3,-1,3,6,7,6,6],
[100,12,11,11,3,1,1,8,-1,-1,-4,-2,3,5,5,3],
[100,9,11,3,1,2,7,-2,0,-1,-1,2,2,2,4],
[100,11,1,2,1,4,-4,-4,-5,-2,4,6,5,4],
[100,1,2,1,6,0,0,-1,0,2,6,5,4],
[100,24,23,22,1,1,0,-1,-2,-4,-4,-3],
[100,22,21,1,-1,-2,-1,1,-2,0,-1],
[100,21,4,0,-4,-2,-1,-5,-4,-3],
[100,3,1,-1,-1,0,1,0,3],
[100,12,11,12,-3,-1,-2,-2],
[100,14,16,-2,2,1,-1],
[100,14,1,4,0,1],
[100,0,4,4,1],
[100,11,9,11],
[100,12,11],
[100,10],
[100]
];

const blockSize = 32;
const channelCount = blockSize * 4;
const channels = Array.from({ length: channelCount }, (_, i) => String(i));

// Put the blocks back into one full matrix
const corr = channels.map(() => new Array(channelCount).fill(0));

function setBlock(rows, rowStart, colStart, startsOnDiagonal) {
  rows.forEach((row, r) => {
    const skip = startsOnDiagonal ? r : 0;
    row.forEach((value, c) => {
      const i = rowStart + r;
      const j = colStart + c + skip;
      corr[i][j] = value;
      corr[j][i] = value;
    });
  });
}

[diag0, diag1, diag2, diag3].forEach((rows, k) => setBlock(rows, k * blockSize, k * blockSize, true));
setBlock(upper01, 0, blockSize, false);
setBlock(upper02, 0, blockSize * 2, false);
setBlock(upper03, 0, blockSize * 3, false);
setBlock(upper12, blockSize, blockSize * 2, false);
setBlock(upper13, blockSize, blockSize * 3, false);
setBlock(upper23, blockSize * 2, blockSize * 3, false);

// RdBu colormap, -30 to 30, values outside are clipped
const colorStops = ['#67001f', '#b2182b', '#d6604d', '#f4a582', '#fddbc7', '#f7f7f7', '#d1e5f0', '#92c5de', '#4393c3', '#2166ac', '#053061'];
const colorRange = 30;
const stopsRgb = colorStops.map(hex => [1, 3, 5].map(p => parseInt(hex.slice(p, p + 2), 16)));

function cellColor(value) {
  const t = Math.min(1, Math.max(0, (value + colorRange) / (2 * colorRange))) * (stopsRgb.length - 1);
  const low = Math.min(Math.floor(t), stopsRgb.length - 2);
  const f = t - low;
  const rgb = stopsRgb[low].map((v, n) => Math.round(v + (stopsRgb[low + 1][n] - v) * f));
  return 'rgb(' + rgb.join(',') + ')';
}

// Cell numbers and the frame round the plot
const cellTextPlugin = {
  id: 'cellText',
  afterDatasetsDraw(chart) {
    const { ctx, chartArea, scales } = chart;
    ctx.save();
    ctx.font = '9.72px "DejaVu Sans"';
    ctx.textAlign = 'center';
    ctx.textBaseline = 'middle';
    corr.forEach((row, i) => {
      const y = scales.y.getPixelForValue(i);
      row.forEach((value, j) => {
        ctx.fillStyle = value >= 50 ? '#ffffff' : '#000000';
        ctx.fillText(String(value), scales.x.getPixelForValue(j), y);
      });
    });
    ctx.strokeStyle = '#000000';
    ctx.lineWidth = 1.1;
    ctx.strokeRect(chartArea.left, chartArea.top, chartArea.width, chartArea.height);
    ctx.restore();
  }
};

const axisFont = { family: '"DejaVu Sans"', size: 13.9 };
const tickGrid = { drawOnChartArea: false, drawTicks: true, tickLength: 5, tickColor: '#000000', tickWidth: 1.1, offset: false };

const corrChart = new Chart(document.getElementById('corrChart').getContext('2d'), {
  type: 'bar',
  data: {
    labels: channels,
    datasets: corr.map((row, i) => ({
      label: channels[i],
      data: row.map(() => [i - 0.5, i + 0.5]),
      backgroundColor: row.map(cellColor),
      borderWidth: 0,
      inflateAmount: 0.5,
      grouped: false,
      barPercentage: 1,
      categoryPercentage: 1
    }))
  },
  options: {
    responsive: false,
    animation: false,
    events: [],
    layout: { padding: { left: 0, top: 0, right: 23, bottom: 0 } },
    plugins: {
      legend: { display: false },
      tooltip: { enabled: false },
      title: {
        display: true,
        text: chartTitle,
        fullSize: false,
        color: '#000000',
        font: { family: '"DejaVu Sans"', size: 16.67, weight: 'normal' },
        padding: { top: 11, bottom: 4 }
      }
    },
    scales: {
      x: {
        grid: tickGrid,
        border: { display: false },
        ticks: { font: axisFont, color: '#000000', padding: 5, autoSkip: false, maxRotation: 0, minRotation: 0 },
        afterBuildTicks(scale) {
          scale.ticks = scale.ticks.filter(t => tickValues.includes(t.value));
        },
        afterFit(scale) {
          scale.height = 39;
        }
      },
      y: {
        type: 'linear',
        reverse: true,
        min: -0.5,
        max: channelCount - 0.5,
        grid: tickGrid,
        border: { display: false },
        ticks: { font: axisFont, color: '#000000', padding: 5, autoSkip: false, callback: v => String(v) },
        afterBuildTicks(scale) {
          scale.ticks = tickValues.map(value => ({ value }));
        },
        afterFit(scale) {
          scale.width = 51.4;
        }
      }
    }
  },
  plugins: [cellTextPlugin]
});
</script>
</body>
</html>
